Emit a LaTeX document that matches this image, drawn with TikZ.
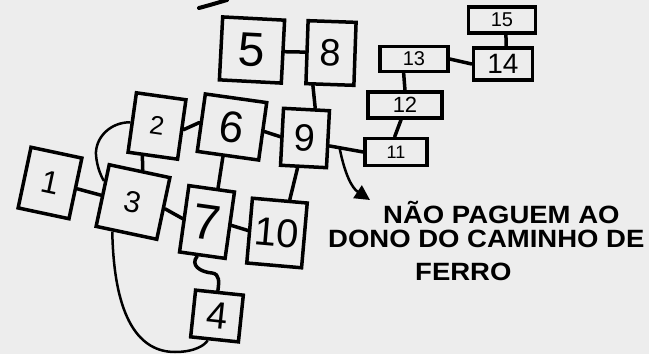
\documentclass[tikz,border=0pt]{standalone}
\usepackage{fontspec}
\setmainfont{Liberation Sans}
\usetikzlibrary{arrows.meta}

\begin{document}
\begin{tikzpicture}[x=1pt,y=-1pt,
  box/.style={draw,line width=3.5pt,inner sep=0pt,font=\fontsize{#1}{#1}\selectfont},
  link/.style={line width=3.5pt,line cap=round},
  tag/.style={anchor=base west,inner sep=0pt,xscale=1.1,font=\fontsize{25}{25}\selectfont\bfseries}]
\fill[black!7](0,0)rectangle(649,354);
\useasboundingbox(0,0)rectangle(649,354);
% boxes on the left
\node[box=48,minimum width=62pt,minimum height=63pt,rotate=-3](n5)at(252,50){5};
\node[box=38,minimum width=48pt,minimum height=63pt,rotate=-2](n8)at(331,53){8};
\node[box=38,minimum width=46pt,minimum height=57pt,rotate=-3](n9)at(305,138){9};
\node[box=26,minimum width=50pt,minimum height=60pt,rotate=-8](n2)at(157,126){2};
\node[box=44,minimum width=62pt,minimum height=58pt,rotate=-8](n6)at(232,127){6};
\node[box=32,minimum width=52pt,minimum height=62pt,rotate=-12](n1)at(50,183){1};
\node[box=30,minimum width=62pt,minimum height=63pt,rotate=-12](n3)at(133,202){3};
\node[box=50,minimum width=46pt,minimum height=67pt,rotate=-8](n7)at(207,222){7};
\node[box=40,minimum width=55pt,minimum height=65pt,rotate=-5](n10)at(277,233){10};
\node[box=38,minimum width=48pt,minimum height=47pt,rotate=-6](n4)at(217,316){4};
% boxes on the right
\node[box=20,minimum width=67pt,minimum height=26pt](n15)at(502,20){15};
\node[box=28,minimum width=59pt,minimum height=32pt](n14)at(503,64){14};
\node[box=20,minimum width=68pt,minimum height=25pt](n13)at(414,59){13};
\node[box=22,minimum width=74pt,minimum height=26pt](n12)at(405,105){12};
\node[box=18,minimum width=62pt,minimum height=27pt](n11)at(396,152){11};
% links
\draw[link](n5.east)--(n8.west);
\draw[link](n8.-117)--(n9.74);
\draw[link](n2.east)--(n6.west);
\draw[link](n6.east)--(n9.west);
\draw[link](n9.-15)--coordinate[pos=0.3](tap)(n11.west);
\draw[link](n1.east)--(n3.west);
\draw[link](n2.-108)--(n3.85);
\draw[link](n6.-99)--(n7.80);
\draw[link](n3.east)--(n7.west);
\draw[link](n7.east)--(n10.west);
\draw[link](n9.-101)--(n10.74);
\draw[link](n13.east)--(n14.west);
\draw[link](n15.-75)--(n14.80);
\draw[link](n13.-126)--(n12.north);
\draw[link](n12.-105)--(n11.95);
\draw[link](n7.-98)..controls(190,265)and(200,272)..(212,273)..controls(220,274)and(219,282)..(n4.94);
\draw[line width=2.5pt](n3.-113)..controls(114,320)and(140,352)..(175,352)..controls(195,352)and(205,345)..(n4.-105);
\draw[line width=2.5pt](n2.west)..controls(110,122)and(95,138)..(96,155)..controls(97,168)and(102,178)..(n3.156);
\draw[line width=4pt,line cap=round](199,8)..controls(210,5)..(227,0);
% note
\coordinate(tip)at(370,200);
\draw[line width=2.5pt,-{Triangle[length=15pt,width=15pt]}](tap)..controls(345,175)and(352,188)..(tip);
\node[tag](msg1)at(383,223){NÃO PAGUEM AO};
\node[tag](msg2)at(328,247){DONO DO CAMINHO DE};
\node[tag](msg3)at(415,280){FERRO};
\end{tikzpicture}
\end{document}
